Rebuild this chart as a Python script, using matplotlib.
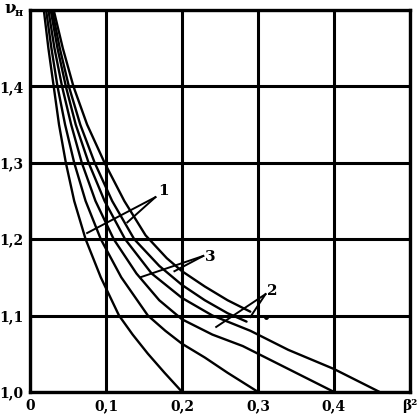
import matplotlib.pyplot as plt

# curvas (beta^2, v_n)
x_a = [0.018, 0.024, 0.031, 0.038, 0.047, 0.058, 0.073, 0.093, 0.117, 0.135, 0.155, 0.177, 0.200]
y_a = [1.50, 1.45, 1.40, 1.35, 1.30, 1.25, 1.20, 1.15, 1.10, 1.075, 1.05, 1.025, 1.00]

x_b = [0.021, 0.028, 0.036, 0.046, 0.058, 0.073, 0.093, 0.120, 0.155, 0.178, 0.200, 0.230, 0.260, 0.300]
y_b = [1.50, 1.45, 1.40, 1.35, 1.30, 1.25, 1.20, 1.15, 1.10, 1.08, 1.063, 1.045, 1.025, 1.00]

x_c = [0.024, 0.032, 0.042, 0.054, 0.068, 0.086, 0.110, 0.140, 0.170, 0.200, 0.240, 0.280, 0.320, 0.360, 0.400]
y_c = [1.50, 1.45, 1.40, 1.35, 1.30, 1.25, 1.20, 1.155, 1.12, 1.095, 1.075, 1.06, 1.04, 1.02, 1.00]

x_d = [0.027, 0.036, 0.047, 0.060, 0.077, 0.098, 0.125, 0.160, 0.200, 0.240, 0.290, 0.340, 0.400, 0.460]
y_d = [1.50, 1.45, 1.40, 1.35, 1.30, 1.25, 1.20, 1.155, 1.123, 1.10, 1.08, 1.055, 1.03, 1.00]

x_e = [0.029, 0.039, 0.051, 0.066, 0.085, 0.108, 0.137, 0.170, 0.200, 0.230, 0.260, 0.285]
y_e = [1.50, 1.45, 1.40, 1.35, 1.30, 1.25, 1.20, 1.165, 1.14, 1.12, 1.103, 1.092]

x_f = [0.031, 0.043, 0.057, 0.075, 0.098, 0.124, 0.152, 0.180, 0.200, 0.230, 0.260, 0.290]
y_f = [1.50, 1.45, 1.40, 1.35, 1.30, 1.25, 1.205, 1.175, 1.158, 1.138, 1.12, 1.105]

x_ticks = [0, 0.1, 0.2, 0.3, 0.4, 0.5]
x_labels = ["0", "0,1", "0,2", "0,3", "0,4", "β²"]
y_ticks = [1.0, 1.1, 1.2, 1.3, 1.4, 1.5]
y_labels = ["1,0", "1,1", "1,2", "1,3", "1,4", ""]

fig = plt.figure(figsize=(4.19, 4.20), dpi=100)
ax = fig.add_axes([0.072, 0.067, 0.906, 0.909])

for xs, ys in [(x_a, y_a), (x_b, y_b), (x_c, y_c), (x_d, y_d), (x_e, y_e), (x_f, y_f)]:
    ax.plot(xs, ys, color="black", lw=1.7, solid_joinstyle="round", solid_capstyle="round")

# lineas de referencia de las etiquetas
ax.plot([0.165, 0.075], [1.255, 1.208], color="black", lw=1.4)
ax.plot([0.165, 0.128], [1.255, 1.222], color="black", lw=1.4)
ax.text(0.168, 1.258, "1", fontsize=11, fontweight="bold", family="DejaVu Serif")

ax.plot([0.228, 0.145], [1.178, 1.150], color="black", lw=1.4)
ax.plot([0.228, 0.190], [1.178, 1.158], color="black", lw=1.4)
ax.text(0.230, 1.172, "3", fontsize=11, fontweight="bold", family="DejaVu Serif")

ax.plot([0.31, 0.245], [1.128, 1.085], color="black", lw=1.4)
ax.plot([0.31, 0.29], [1.128, 1.098], color="black", lw=1.4)
ax.text(0.312, 1.127, "2", fontsize=11, fontweight="bold", family="DejaVu Serif")
ax.plot([0.311], [1.098], marker="o", ms=2.5, color="black")

ax.set_xlim(0, 0.5)
ax.set_ylim(1.0, 1.5)
ax.set_xticks(x_ticks)
ax.set_xticklabels(x_labels, fontsize=10, fontweight="bold", family="DejaVu Serif")
ax.set_yticks(y_ticks)
ax.set_yticklabels(y_labels, fontsize=10, fontweight="bold", family="DejaVu Serif")
ax.tick_params(length=0, pad=5)
ax.grid(True, color="black", lw=2.2)
for s in ax.spines.values():
    s.set_linewidth(2.4)

fig.text(0.01, 0.968, "ν", fontsize=12, fontweight="bold", family="DejaVu Serif")
fig.text(0.035, 0.962, "н", fontsize=8, fontweight="bold", family="DejaVu Serif")

fig.savefig("out.png", dpi=100)
